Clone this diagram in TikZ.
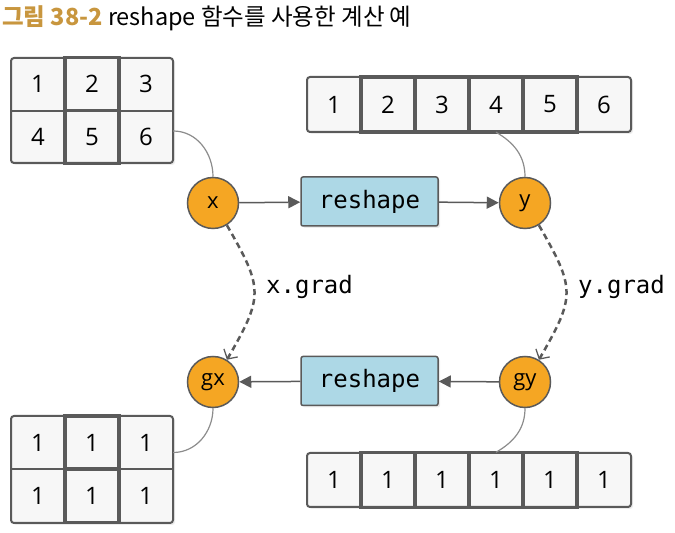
\documentclass[tikz,border=0pt]{standalone}
\usepackage{fontspec}
\usepackage{xcolor}
\usepackage{tikz}
\usetikzlibrary{
    arrows.meta,
    positioning,
    calc,
    shadows
}
\newfontfamily\krfont{Noto Sans CJK KR}
\newfontfamily\digitfont{Open Sans}
\newfontfamily\codefont{DejaVu Sans Mono}

\definecolor{linegray}{HTML}{5A5A5A}
\definecolor{linkgray}{HTML}{8C8C8C}
\definecolor{cellfill}{HTML}{F7F7F7}
\definecolor{nodeorange}{HTML}{F5A623}
\definecolor{boxblue}{HTML}{ADD8E6}
\definecolor{titlegold}{HTML}{C8963E}

\begin{document}
\begin{tikzpicture}[>=latex,x=1pt,y=1pt,
    gridbox/.style={draw=linegray, fill=cellfill, line width=2pt, rounded corners=3pt,
        drop shadow={opacity=0.15, shadow xshift=2pt, shadow yshift=-2pt}},
    gridline/.style={draw=linegray, line width=2pt},
    thickcol/.style={draw=linegray, line width=3.5pt},
    cell/.style={minimum width=54pt, minimum height=53pt, inner sep=0pt,
        font=\digitfont\fontsize{24}{28}\selectfont},
    rowcell/.style={cell, minimum height=55pt},
    circ/.style={circle, draw=linegray, fill=nodeorange, line width=1.5pt,
        minimum size=51pt, inner sep=0pt, font=\digitfont\fontsize{22}{26}\selectfont},
    fnbox/.style={draw=linegray, fill=boxblue, rounded corners=2pt, line width=1.5pt,
        minimum width=137pt, minimum height=49pt, inner sep=0pt,
        font=\codefont\fontsize{24}{28}\selectfont,
        drop shadow={opacity=0.15, shadow xshift=2pt, shadow yshift=-2pt}},
    flow/.style={-{Triangle[length=12pt,width=12pt]}, line width=1.5pt, draw=linegray},
    grad/.style={-{Straight Barb[length=7pt,width=16pt,line width=1.3pt]}, line width=2.5pt,
        draw=linegray, dash pattern=on 6pt off 4pt},
    link/.style={draw=linkgray, line width=1.2pt},
    codelbl/.style={anchor=west, inner sep=0pt, font=\codefont\fontsize{24}{28}\selectfont}
    ]
    \useasboundingbox (0,0) rectangle (675,533);

    % title
    \node[anchor=base west, inner sep=0pt, font=\krfont\fontsize{23.5}{28}\selectfont] (title) at (2,507)
        {{\bfseries\color{titlegold}그림 38-2} reshape 함수를 사용한 계산 예};

    % x (2x3)
    \filldraw[gridbox] (11,370) rectangle (173,475);
    \node[cell] (p1) at (38,449) {1};
    \node[cell] (p2) at (92,449) {2};
    \node[cell] (p3) at (146,449) {3};
    \node[cell] (p4) at (38,396) {4};
    \node[cell] (p5) at (92,396) {5};
    \node[cell] (p6) at (146,396) {6};
    \draw[gridline] (p1.south west) -- (p3.south east);
    \draw[thickcol] (p2.north west) rectangle (p2.south east);
    \draw[thickcol] (p5.north west) rectangle (p5.south east);

    % y (6)
    \filldraw[gridbox] (307,401) rectangle (631,456);
    \node[rowcell] (q1) at (334,428.5) {1};
    \node[rowcell] (q2) at (388,428.5) {2};
    \node[rowcell] (q3) at (442,428.5) {3};
    \node[rowcell] (q4) at (496,428.5) {4};
    \node[rowcell] (q5) at (550,428.5) {5};
    \node[rowcell] (q6) at (604,428.5) {6};
    \draw[thickcol] (q2.north west) rectangle (q5.south east);
    \draw[thickcol] (q2.north east) -- (q2.south east);
    \draw[thickcol] (q3.north east) -- (q3.south east);
    \draw[thickcol] (q4.north east) -- (q4.south east);

    % gx (2x3)
    \filldraw[gridbox] (11,10) rectangle (173,117);
    \node[cell] (r1) at (38,90.5) {1};
    \node[cell] (r2) at (92,90.5) {1};
    \node[cell] (r3) at (146,90.5) {1};
    \node[cell] (r4) at (38,37) {1};
    \node[cell] (r5) at (92,37) {1};
    \node[cell] (r6) at (146,37) {1};
    \draw[gridline] (r1.south west) -- (r3.south east);
    \draw[thickcol] (r2.north west) rectangle (r2.south east);
    \draw[thickcol] (r5.north west) rectangle (r5.south east);

    % gy (6)
    \filldraw[gridbox] (307,26) rectangle (631,80);
    \node[rowcell] (s1) at (334,53) {1};
    \node[rowcell] (s2) at (388,53) {1};
    \node[rowcell] (s3) at (442,53) {1};
    \node[rowcell] (s4) at (496,53) {1};
    \node[rowcell] (s5) at (550,53) {1};
    \node[rowcell] (s6) at (604,53) {1};
    \draw[thickcol] (s2.north west) rectangle (s5.south east);
    \draw[thickcol] (s2.north east) -- (s2.south east);
    \draw[thickcol] (s3.north east) -- (s3.south east);
    \draw[thickcol] (s4.north east) -- (s4.south east);

    % variables and functions
    \node[circ] (x) at (213,330) {x};
    \node[circ] (y) at (525,330) {y};
    \node[circ] (gx) at (213,151) {gx};
    \node[circ] (gy) at (525,151) {gy};
    \node[fnbox] (f1) at (369.5,331.5) {reshape};
    \node[fnbox] (f2) at (369.5,152) {reshape};

    \draw[flow] (x) -- (f1);
    \draw[flow] (f1) -- (y);
    \draw[flow] (gy) -- (f2);
    \draw[flow] (f2) -- (gx);

    \draw[grad] (x.-58) to[out=-60,in=60,looseness=1.4] (gx.58);
    \draw[grad] (y.-58) to[out=-60,in=60,looseness=1.4] (gy.58);
    \node[codelbl] (xg) at (266,246) {x.grad};
    \node[codelbl] (yg) at (578,246) {y.grad};

    \draw[link] ([yshift=6pt]p6.east) to[out=0,in=90] (x.north);
    \draw[link] (q4.south) to[out=-30,in=90] (y.north);
    \draw[link] (gx.south) to[out=-90,in=0] ([yshift=-10pt]r3.east);
    \draw[link] (gy.south) to[out=-90,in=30] (s4.north);
\end{tikzpicture}
\end{document}
